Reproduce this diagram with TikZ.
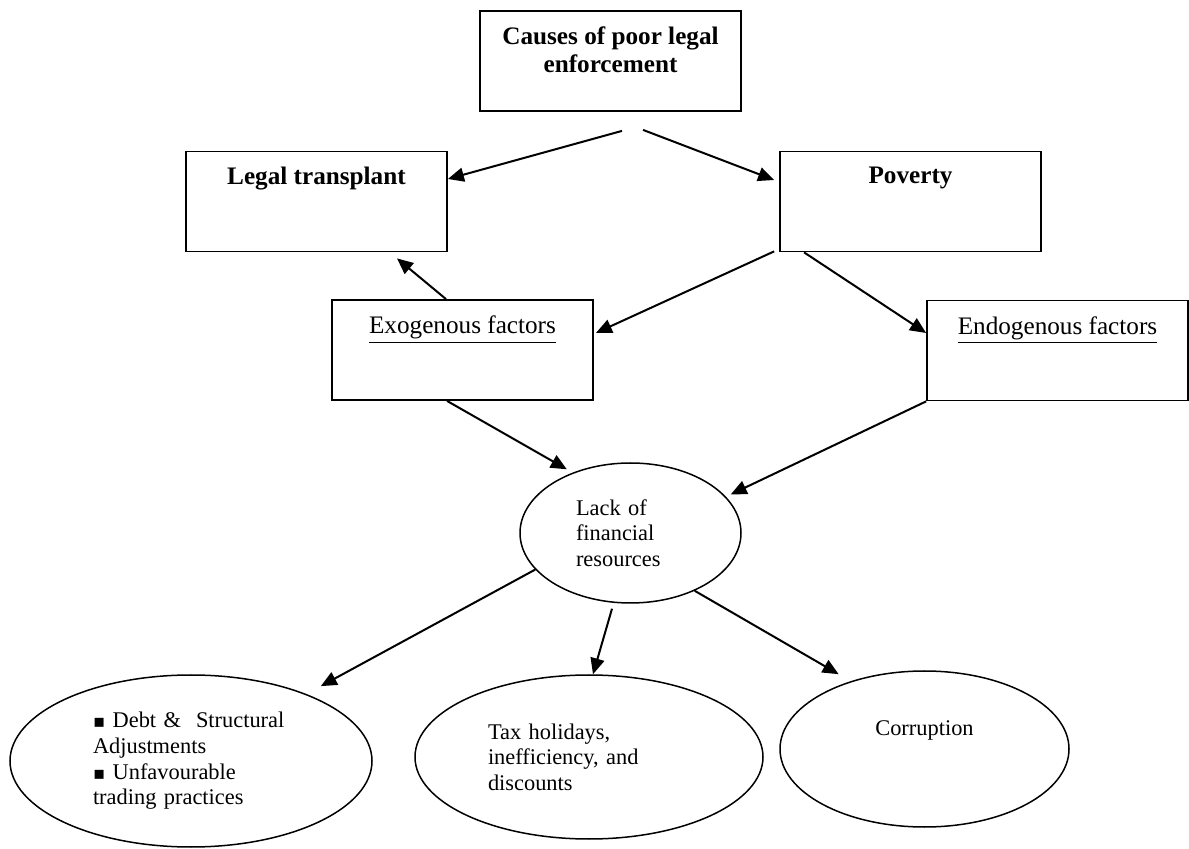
\documentclass[tikz,border=0pt]{standalone}
\usepackage{fontspec}
\setmainfont{Liberation Serif}
\newfontfamily\symfont{DejaVu Sans}
\usetikzlibrary{arrows.meta, positioning, calc, shapes.geometric}

\newcommand{\boxfont}{\fontsize{12.6}{14}\selectfont}
\newcommand{\ovalfont}{\fontsize{11.2}{12.8}\selectfont}
\newcommand{\sqbullet}{{\symfont\fontsize{9}{9}\selectfont ▪}}
\newcommand{\boxlabel}[1]{\parbox[c][50pt][t]{130.5pt}{\boxfont\centering\vspace*{8pt}#1}}

\begin{document}
\begin{tikzpicture}[x=0.5pt, y=-0.5pt,
  box/.style={draw, line width=0.9pt, inner sep=0pt},
  oval/.style={draw, ellipse, line width=0.75pt, inner sep=0pt, align=left, font=\ovalfont},
  arr/.style={-{Triangle[length=8pt,width=7pt]}, line width=1pt}]
\useasboundingbox (0,0) rectangle (1189,849);

% boxes
\node[box] (causes) at (610.5,61) {\boxlabel{\textbf{Causes of poor legal\\ enforcement}}};
\node[box] (legal) at (316.5,201.5) {\boxlabel{\textbf{Legal transplant}}};
\node[box] (poverty) at (910.5,201.5) {\boxlabel{\textbf{Poverty}}};
\node[box] (exog) at (462.5,350) {\boxlabel{\underline{Exogenous factors}}};
\node[box] (endog) at (1057.5,350.5) {\boxlabel{\underline{Endogenous factors}}};

% ovals
\node[oval, minimum width=110.5pt, minimum height=70pt, text width=54.5pt] (lack) at (630.5,533) {Lack of\\ financial\\ resources};
\node[oval, minimum width=181pt, minimum height=86pt, text width=98pt] (debt) at (191,761)
  {\hyphenpenalty=10000 \sqbullet\ Debt \&~ Structural\\ Adjustments\\ \sqbullet\ Unfavourable\\ trading practices};
\node[oval, minimum width=174pt, minimum height=82pt, text width=101pt] (tax) at (589,757)
  {Tax holidays,\\ inefficiency, and\\ discounts};
\node[oval, minimum width=144.5pt, minimum height=78pt, align=center, text height=8pt, text depth=22pt] (corrupt) at (924.5,749) {Corruption};

% arrows
\draw[arr] ($(causes.south)+(11.5,19)$) -- ($(legal.east)+(0,-22.5)$);
\draw[arr] ($(causes.south)+(32.5,18)$) -- ($(poverty.west)+(-5,-21.5)$);
\draw[arr] ($(exog.north)+(-16.5,0)$) -- ($(legal.south)+(80.5,6)$);
\draw[arr] ($(poverty.south west)+(-5,-1)$) -- ($(exog.east)+(2,-17)$);
\draw[arr] ($(poverty.south west)+(25,0)$) -- ($(endog.west)+(0,-17.5)$);
\draw[arr] ($(exog.south)+(-15.5,0)$) -- ($(lack.135)+(-4,-4)$);
\draw[arr] (endog.south west) -- ($(lack.21)+(5,-2)$);
\draw[arr] (lack.201) -- ($(debt.30)+(14,-8)$);
\draw[arr] ($(lack.south)+(-18.5,5)$) -- ($(tax.north)+(4,0)$);
\draw[arr] (lack.-42) -- ($(corrupt.139.5)+(-9,-8)$);
\end{tikzpicture}
\end{document}
